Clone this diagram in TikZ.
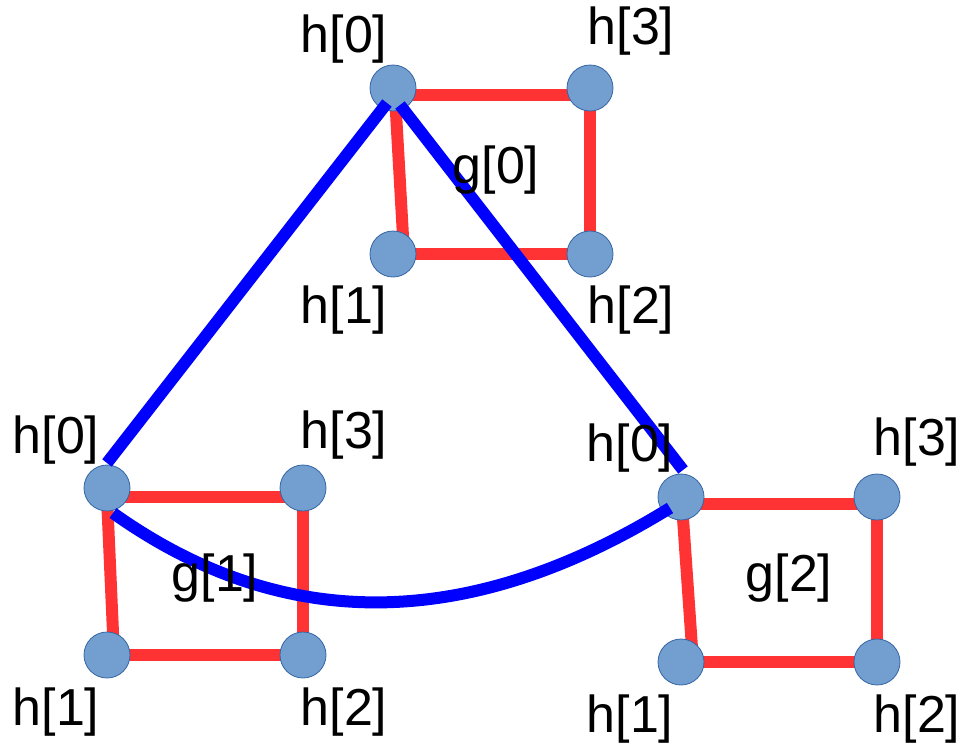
\documentclass[tikz,border=0pt]{standalone}
\usepackage{fontspec}
\setmainfont{Liberation Sans}
\definecolor{nodefill}{HTML}{729FCF}
\definecolor{nodeedge}{HTML}{3465A4}
\definecolor{redline}{HTML}{FF3333}
\definecolor{blueline}{HTML}{0000FF}
\tikzset{
  vert/.style={circle, fill=nodefill, draw=nodeedge, line width=0.8pt, minimum size=46pt, inner sep=0pt},
  lbl/.style={inner sep=0pt, anchor=center, font=\fontsize{52}{62}\selectfont},
  redl/.style={draw=redline, line width=12pt},
  bluel/.style={draw=blueline, line width=12pt},
}
\begin{document}
\begin{tikzpicture}[x=1pt,y=-1pt]
\useasboundingbox (0,0) rectangle (961,745);
% group 0
\coordinate (a0) at (393,88);
\coordinate (a3) at (590,88);
\coordinate (a1) at (393,254);
\coordinate (a2) at (590,254);
% group 1
\coordinate (b0) at (107,488);
\coordinate (b3) at (303,488);
\coordinate (b1) at (107,655);
\coordinate (b2) at (303,655);
% group 2
\coordinate (c0) at (681,497);
\coordinate (c3) at (877,497);
\coordinate (c1) at (681,662);
\coordinate (c2) at (877,662);
% red squares
\draw[redl] ([shift={(0,7)}]a0) -- ([shift={(0,7)}]a3);
\draw[redl] (a3) -- (a2);
\draw[redl] (a1) -- (a2);
\draw[redl] ([shift={(2,7)}]a0) -- ([shift={(11,0)}]a1);
\draw[redl] ([shift={(0,9)}]b0) -- ([shift={(0,9)}]b3);
\draw[redl] (b3) -- (b2);
\draw[redl] (b1) -- (b2);
\draw[redl] ([shift={(0,9)}]b0) -- ([shift={(7,0)}]b1);
\draw[redl] ([shift={(0,7)}]c0) -- ([shift={(0,7)}]c3);
\draw[redl] (c3) -- (c2);
\draw[redl] (c1) -- (c2);
\draw[redl] ([shift={(1,7)}]c0) -- ([shift={(12,0)}]c1);
% vertices
\foreach \n in {a0,a1,a2,a3,b0,b1,b2,b3,c0,c1,c2,c3}
  \node[vert] (n\n) at (\n) {};
% blue links
\draw[bluel] ([shift={(-6,15)}]na0.center) -- ([shift={(0,-25)}]nb0.center);
\draw[bluel] ([shift={(7,17)}]na0.center) -- ([shift={(2,-27)}]nc0.center);
\draw[bluel] ([shift={(6,25)}]nb0.center) .. controls (283,634) and (469,632) .. ([shift={(-11,11)}]nc0.center);
% labels
\node[lbl] (la0) at (344,39) {h[0]};
\node[lbl] (la3) at (631,31) {h[3]};
\node[lbl] (la1) at (344,310) {h[1]};
\node[lbl] (la2) at (631,310) {h[2]};
\node[lbl] (lg0) at (496,170) {g[0]};
\node[lbl] (lb0) at (56,440) {h[0]};
\node[lbl] (lb3) at (344,435) {h[3]};
\node[lbl] (lb1) at (56,712) {h[1]};
\node[lbl] (lb2) at (344,712) {h[2]};
\node[lbl] (lg1) at (215,578) {g[1]};
\node[lbl] (lc0) at (630,448) {h[0]};
\node[lbl] (lc3) at (917,442) {h[3]};
\node[lbl] (lc1) at (630,719) {h[1]};
\node[lbl] (lc2) at (917,719) {h[2]};
\node[lbl] (lg2) at (789,578) {g[2]};
\end{tikzpicture}
\end{document}
